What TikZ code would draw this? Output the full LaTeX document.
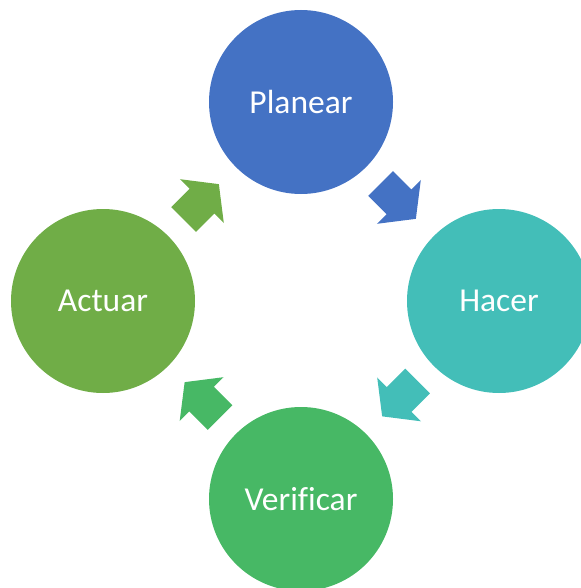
\documentclass[tikz,border=0pt]{standalone}
\usepackage{fontspec}
\setmainfont{Carlito}[Ligatures=NoCommon]
\definecolor{cblue}{HTML}{4472C4}
\definecolor{cteal}{HTML}{43BEB8}
\definecolor{cgreen}{HTML}{47B865}
\definecolor{colive}{HTML}{70AD47}
\begin{document}
\begin{tikzpicture}[x=1pt,y=-1pt,
  stage/.style={circle,minimum size=184pt,inner sep=0pt,text=white,
    font=\fontsize{33.5}{40}\selectfont},
  blockarrow/.pic={\fill (0,17.5)--(26,17.5)--(26,31)--(50,0)--(26,-31)--(26,-17.5)--(0,-17.5)--cycle;}]
\useasboundingbox (0,0) rectangle (580,588);
\node[stage,fill=cblue]  (plan) at (301,102) {Planear};
\node[stage,fill=cteal]  (hace) at (499,301) {Hacer};
\node[stage,fill=cgreen] (veri) at (301,499) {Verificar};
\node[stage,fill=colive] (actu) at (103,301) {Actuar};
\pic[cblue,  shift={(380.5,183.5)}, rotate=-45]  {blockarrow};
\pic[cteal,  shift={(417.5,381)},   rotate=-135] {blockarrow};
\pic[cgreen, shift={(220,417.5)},   rotate=135]  {blockarrow};
\pic[colive, shift={(183.5,219.5)}, rotate=45]   {blockarrow};
\end{tikzpicture}
\end{document}
